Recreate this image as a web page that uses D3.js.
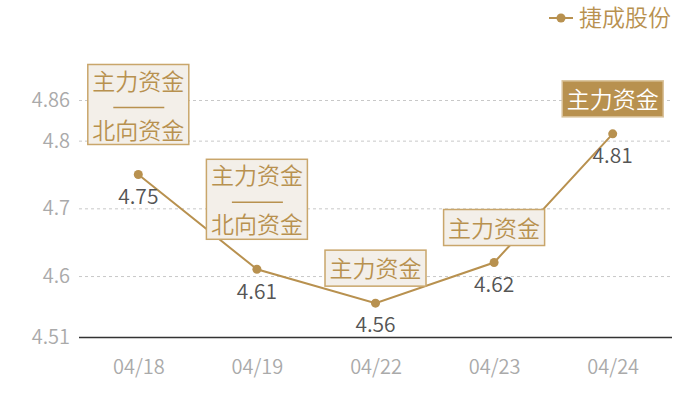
<!DOCTYPE html>
<html>
<head>
<meta charset="utf-8">
<script src="https://cdn.jsdelivr.net/npm/d3@7"></script>
<style>
  body { margin: 0; background: #fff; }
  text { font-family: "Noto Sans CJK SC", "Noto Sans", sans-serif; font-weight: 350; }
</style>
</head>
<body>
<div id="chart"></div>
<script>
// data
const dates = ['04/18', '04/19', '04/22', '04/23', '04/24'];
const prices = [4.75, 4.61, 4.56, 4.62, 4.81];
const notes = [
  ['主力资金', '北向资金'],
  ['主力资金', '北向资金'],
  ['主力资金'],
  ['主力资金'],
  ['主力资金']
];
const highlight = [false, false, false, false, true];
const yTicks = [4.51, 4.6, 4.7, 4.8, 4.86];
const seriesName = '捷成股份';

const width = 700, height = 400;
const mLeft = 79, mRight = 672, mTop = 100, mBottom = 337;
const gold = '#b8914f';

const svg = d3.select('#chart').append('svg')
  .attr('width', width)
  .attr('height', height);

const x = d3.scalePoint().domain(dates).range([mLeft, mRight]).padding(0.5);
const y = d3.scaleLinear().domain([4.51, 4.86]).range([mBottom, mTop]);

// eje y + grid
const yAxis = svg.append('g')
  .attr('transform', `translate(${mLeft},0)`)
  .call(d3.axisLeft(y).tickValues(yTicks).tickFormat(d => String(d))
    .tickSize(-(mRight - mLeft)).tickPadding(9));
yAxis.select('.domain').remove();
yAxis.selectAll('.tick line')
  .attr('stroke', d => d === 4.51 ? '#333' : '#c8c8c8')
  .attr('stroke-width', d => d === 4.51 ? 1.5 : 1)
  .attr('stroke-dasharray', d => d === 4.51 ? null : '3,3');
yAxis.selectAll('.tick text')
  .attr('fill', '#aaa')
  .style('font-size', '20px');

// eje x
const xAxis = svg.append('g')
  .attr('transform', `translate(0,${mBottom})`)
  .call(d3.axisBottom(x).tickSize(0).tickPadding(23));
xAxis.select('.domain').remove();
xAxis.selectAll('.tick text')
  .attr('fill', '#aaa')
  .style('font-size', '20px');

// linea
const line = d3.line().x((d, i) => x(dates[i])).y(d => y(d));
svg.append('path')
  .datum(prices)
  .attr('d', line)
  .attr('fill', 'none')
  .attr('stroke', gold)
  .attr('stroke-width', 2);

svg.selectAll('circle.pt')
  .data(prices)
  .enter()
  .append('circle')
  .attr('class', 'pt')
  .attr('cx', (d, i) => x(dates[i]))
  .attr('cy', d => y(d))
  .attr('r', 4.5)
  .attr('fill', gold);

// etiquetas de valor
svg.selectAll('text.val')
  .data(prices)
  .enter()
  .append('text')
  .attr('class', 'val')
  .attr('x', (d, i) => x(dates[i]))
  .attr('y', d => y(d) + 22)
  .attr('dy', '0.35em')
  .attr('text-anchor', 'middle')
  .attr('fill', '#555')
  .style('font-size', '21px')
  .text(d => d);

// cajas de anotacion
const boxW = 101, lineH = 36;
notes.forEach((lines, i) => {
  const cx = x(dates[i]);
  const py = y(prices[i]);
  const twoLines = lines.length > 1;
  const h = twoLines ? 80 : lineH;
  const gap = twoLines ? 30 : 17;
  const y0 = py - gap - h;
  const g = svg.append('g');
  g.append('rect')
    .attr('x', cx - boxW / 2)
    .attr('y', y0)
    .attr('width', boxW)
    .attr('height', h)
    .attr('fill', highlight[i] ? gold : '#f3efe9')
    .attr('stroke', highlight[i] ? '#d9c29a' : '#c9a66b')
    .attr('stroke-width', 1.5);
  const txtColor = highlight[i] ? '#fff' : gold;
  if (twoLines) {
    g.append('text')
      .attr('x', cx).attr('y', y0 + 17).attr('dy', '0.35em')
      .attr('text-anchor', 'middle').attr('fill', txtColor)
      .style('font-size', '23px').text(lines[0]);
    g.append('line')
      .attr('x1', cx - 25).attr('x2', cx + 26)
      .attr('y1', y0 + 43).attr('y2', y0 + 43)
      .attr('stroke', gold).attr('stroke-width', 1.5);
    g.append('text')
      .attr('x', cx).attr('y', y0 + 66).attr('dy', '0.35em')
      .attr('text-anchor', 'middle').attr('fill', txtColor)
      .style('font-size', '23px').text(lines[1]);
  } else {
    g.append('text')
      .attr('x', cx).attr('y', y0 + h / 2 + 1).attr('dy', '0.35em')
      .attr('text-anchor', 'middle').attr('fill', txtColor)
      .style('font-size', '23px').text(lines[0]);
  }
});

// leyenda
const leg = svg.append('g').attr('transform', 'translate(549,18)');
leg.append('line').attr('x1', 0).attr('x2', 24).attr('y1', 0).attr('y2', 0)
  .attr('stroke', gold).attr('stroke-width', 2);
leg.append('circle').attr('cx', 12).attr('cy', 0).attr('r', 4.5).attr('fill', gold);
leg.append('text').attr('x', 30).attr('y', 0).attr('dy', '0.35em')
  .attr('fill', gold).style('font-size', '23px').text(seriesName);
</script>
</body>
</html>
